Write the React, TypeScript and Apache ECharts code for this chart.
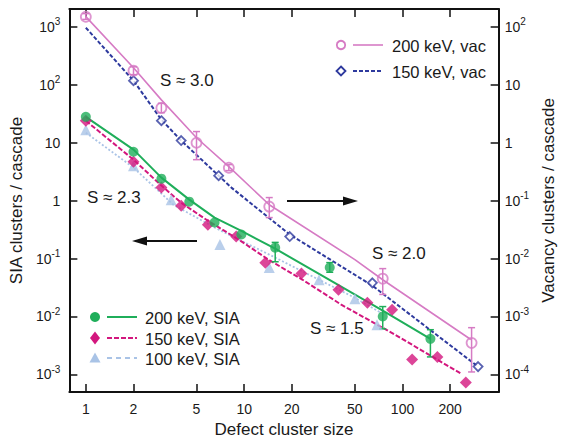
import React, { useEffect, useRef } from "react";
import * as echarts from "echarts";

// ---------- data ----------
const xTickValues = [1, 2, 5, 10, 20, 50, 100, 200];
const leftExponents = [-3, -2, -1, 0, 1, 2, 3];
const rightExponents = [-4, -3, -2, -1, 0, 1, 2];

// SIA clusters / cascade (left axis)
const sia200X = [1, 2, 3, 4.5, 6.5, 9.6, 15.7, 34.7, 75, 150];
const sia200Y = [28, 7.0, 2.4, 0.96, 0.42, 0.26, 0.154, 0.07, 0.01, 0.0041];
const sia200ErrX = [15.7, 34.7, 75, 150];
const sia200ErrLo = [0.088, 0.058, 0.0061, 0.002];
const sia200ErrHi = [0.19, 0.085, 0.0148, 0.0059];
const sia200FitX = [1, 2, 3, 4.5, 6.5, 9.6, 15.7, 38, 75, 150];
const sia200FitY = [28, 7.6, 2.5, 1.04, 0.51, 0.3, 0.148, 0.037, 0.0126, 0.0041];

const sia150X = [1, 2, 3, 4, 5.9, 8.9, 13.6, 23, 39.4, 60, 86, 115, 166, 251];
const sia150Y = [24, 4.7, 1.68, 0.82, 0.385, 0.24, 0.085, 0.055, 0.029, 0.0173, 0.0131, 0.0018, 0.002, 0.00072];
const sia150FitX = [1, 2, 3, 4, 5.9, 9.3, 14.2, 23.4, 41, 89, 234];
const sia150FitY = [24, 5.1, 1.82, 0.92, 0.45, 0.21, 0.096, 0.043, 0.016, 0.0049, 0.00103];

const sia100X = [1, 2, 3.46, 7.03, 14.4, 29.7, 50, 69];
const sia100Y = [16.8, 4.0, 1.04, 0.174, 0.07, 0.043, 0.0203, 0.0072];
const sia100FitX = [1, 2, 3.57, 6.54, 14.4, 29.7, 50, 73];
const sia100FitY = [14.9, 3.72, 0.85, 0.34, 0.117, 0.043, 0.021, 0.0116];

// Vacancy clusters / cascade (right axis)
const vac200X = [1, 2, 3, 5, 8, 14.4, 75, 273];
const vac200Y = [150, 17.6, 4.0, 1.0, 0.37, 0.079, 0.0045, 0.00035];
const vac200ErrLo = [135, 15, 3.3, 0.51, 0.33, 0.051, 0.0024, 0.00011];
const vac200ErrHi = [170, 20.5, 4.8, 1.56, 0.42, 0.113, 0.0067, 0.00064];
const vac200FitX = [1, 2, 3, 5, 8, 14.4, 50, 75, 270];
const vac200FitY = [151, 19.8, 5.5, 1.22, 0.386, 0.085, 0.0096, 0.0043, 0.0004];

const vac150X = [2, 3, 4, 6.9, 19.4, 64.5, 300];
const vac150Y = [11.8, 2.4, 1.09, 0.27, 0.024, 0.0038, 0.000136];
const vac150FitX = [1, 2, 3, 4, 6.9, 8.3, 19.4, 64.5, 300];
const vac150FitY = [97, 11.8, 2.5, 1.09, 0.27, 0.168, 0.026, 0.0034, 0.000136];

// ---------- styles ----------
const FONT = "'Liberation Sans', Arial, Helvetica, sans-serif";
const TXT = "#1a1a1a";
const C_PINK = "#d67bc4";
const C_BLUE = "#2e3a9e";
const C_GREEN = "#1fae5a";
const C_MAG = "#d3177e";
const C_LBLUE = "#a9c3e6";

const L = Math.log10;
const pts = (xs: number[], ys: number[]) => xs.map((x, i) => [L(x), L(ys[i])]);
const errs = (xs: number[], lo: number[], hi: number[]) => xs.map((x, i) => [L(x), L(lo[i]), L(hi[i])]);

const expLabel = (v: number) => {
  const e = Math.round(v);
  if (e === 0) return "{b|1}";
  if (e === 1) return "{b|10}";
  return "{b|10}{s|" + e + "}";
};
const rich = {
  b: { fontSize: 14, lineHeight: 20, fontFamily: FONT, color: TXT },
  s: { fontSize: 10, lineHeight: 12, verticalAlign: "top", fontFamily: FONT, color: TXT },
};

const errorBar = (color: string, yAxisIndex: number, data: number[][]) => ({
  type: "custom",
  xAxisIndex: 0,
  yAxisIndex,
  z: 3,
  renderItem: (params: any, api: any) => {
    const x = api.value(0);
    const p1 = api.coord([x, api.value(1)]);
    const p2 = api.coord([x, api.value(2)]);
    const w = 3.5;
    const st = { stroke: color, lineWidth: 1.5 };
    return {
      type: "group",
      children: [
        { type: "line", shape: { x1: p1[0], y1: p1[1], x2: p2[0], y2: p2[1] }, style: st },
        { type: "line", shape: { x1: p1[0] - w, y1: p1[1], x2: p1[0] + w, y2: p1[1] }, style: st },
        { type: "line", shape: { x1: p2[0] - w, y1: p2[1], x2: p2[0] + w, y2: p2[1] }, style: st },
      ],
    };
  },
  data,
});

const fitLine = (color: string, yAxisIndex: number, data: number[][], type: any, width: number) => ({
  type: "line",
  yAxisIndex,
  showSymbol: false,
  symbol: "none",
  z: 2,
  lineStyle: { color, width, type },
  data,
});

const markers = (color: string, yAxisIndex: number, data: number[][], symbol: string, size: number, hollow?: string) => ({
  type: "scatter",
  yAxisIndex,
  symbol,
  symbolSize: size,
  z: 4,
  itemStyle: hollow
    ? { color: hollow, borderColor: color, borderWidth: 1.8 }
    : { color },
  data,
});

const axisLineStyle = { onZero: false, lineStyle: { color: "#111", width: 2 } };
const tickStyle = { inside: true, length: 8, lineStyle: { color: "#111", width: 1.5 } };

function buildOption() {
  const xMin = -0.104;
  const xMax = 2.607;
  const yMin = -3.305;
  const yMax = 3.31;
  const xLogTicks = xTickValues.map((v) => L(v));

  const text = (x: number, y: number, t: string) => ({
    type: "text",
    x,
    y,
    style: { text: t, fontSize: 17, fontFamily: FONT, fill: TXT, verticalAlign: "middle", align: "left" },
  });
  const legText = (x: number, y: number, t: string) => ({
    type: "text",
    x,
    y,
    style: { text: t, fontSize: 16.5, fontFamily: FONT, fill: TXT, verticalAlign: "middle", align: "left" },
  });
  const legLine = (x1: number, x2: number, y: number, color: string, dash: any, w: number) => ({
    type: "line",
    shape: { x1, y1: y, x2, y2: y },
    style: { stroke: color, lineWidth: w, lineDash: dash },
  });

  return {
    animation: false,
    backgroundColor: "#fff",
    grid: { left: 65, right: 58, top: 9, bottom: 51, containLabel: false },
    xAxis: [
      {
        type: "value",
        position: "bottom",
        min: xMin,
        max: xMax,
        name: "Defect cluster size",
        nameLocation: "middle",
        nameGap: 28,
        nameTextStyle: { fontSize: 17, fontFamily: FONT, color: TXT },
        axisLine: axisLineStyle,
        axisTick: { ...tickStyle, customValues: xLogTicks },
        axisLabel: {
          customValues: xLogTicks,
          margin: 10,
          fontSize: 14,
          fontFamily: FONT,
          color: TXT,
          formatter: (v: number) => String(Math.round(Math.pow(10, v))),
        },
        splitLine: { show: false },
      },
      {
        type: "value",
        position: "top",
        min: xMin,
        max: xMax,
        axisLine: axisLineStyle,
        axisTick: { ...tickStyle, customValues: xLogTicks },
        axisLabel: { show: false },
        splitLine: { show: false },
      },
    ],
    yAxis: [
      {
        type: "value",
        position: "left",
        min: yMin,
        max: yMax,
        name: "SIA clusters / cascade",
        nameLocation: "middle",
        nameGap: 40,
        nameTextStyle: { fontSize: 17, fontFamily: FONT, color: TXT },
        axisLine: axisLineStyle,
        axisTick: { ...tickStyle, customValues: leftExponents },
        axisLabel: { customValues: leftExponents, margin: 9, formatter: expLabel, rich },
        splitLine: { show: false },
      },
      {
        type: "value",
        position: "right",
        min: yMin - 1,
        max: yMax - 1,
        name: "Vacancy clusters / cascade",
        nameLocation: "middle",
        nameGap: 41,
        nameTextStyle: { fontSize: 17, fontFamily: FONT, color: TXT },
        axisLine: axisLineStyle,
        axisTick: { ...tickStyle, customValues: rightExponents },
        axisLabel: { customValues: rightExponents, margin: 6, formatter: expLabel, rich },
        splitLine: { show: false },
      },
    ],
    series: [
      fitLine(C_LBLUE, 0, pts(sia100FitX, sia100FitY), [2, 2], 1.8),
      fitLine(C_MAG, 0, pts(sia150FitX, sia150FitY), [5, 2], 2),
      fitLine(C_GREEN, 0, pts(sia200FitX, sia200FitY), "solid", 2),
      fitLine(C_BLUE, 1, pts(vac150FitX, vac150FitY), [4, 2], 2),
      fitLine(C_PINK, 1, pts(vac200FitX, vac200FitY), "solid", 1.6),
      errorBar(C_GREEN, 0, errs(sia200ErrX, sia200ErrLo, sia200ErrHi)),
      errorBar(C_PINK, 1, errs(vac200X, vac200ErrLo, vac200ErrHi)),
      markers(C_LBLUE, 0, pts(sia100X, sia100Y), "triangle", 11),
      markers(C_MAG, 0, pts(sia150X, sia150Y), "diamond", 12),
      markers(C_GREEN, 0, pts(sia200X, sia200Y), "circle", 10),
      markers(C_BLUE, 1, pts(vac150X, vac150Y), "diamond", 9, "#fff"),
      markers(C_PINK, 1, pts(vac200X, vac200Y), "circle", 10, "rgba(255,255,255,0)"),
    ],
    graphic: [
      text(160, 80, "S ≈ 3.0"),
      text(87, 197, "S ≈ 2.3"),
      text(372, 253, "S ≈ 2.0"),
      text(310, 328, "S ≈ 1.5"),
      // arrows
      { type: "line", shape: { x1: 197, y1: 241, x2: 142, y2: 241 }, style: { stroke: "#111", lineWidth: 2 } },
      { type: "polygon", shape: { points: [[132, 241], [147, 236.5], [147, 245.5]] }, style: { fill: "#111" } },
      { type: "line", shape: { x1: 287, y1: 201, x2: 346, y2: 201 }, style: { stroke: "#111", lineWidth: 2 } },
      { type: "polygon", shape: { points: [[358, 201], [343, 196.5], [343, 205.5]] }, style: { fill: "#111" } },
      // SIA legend
      { type: "circle", shape: { cx: 95, cy: 317, r: 5 }, style: { fill: C_GREEN } },
      legLine(107, 137, 317, C_GREEN, null, 2),
      legText(145, 318, "200 keV, SIA"),
      { type: "polygon", shape: { points: [[95, 331.5], [100, 338], [95, 344.5], [90, 338]] }, style: { fill: C_MAG } },
      legLine(107, 137, 338, C_MAG, [5, 2], 2),
      legText(145, 339, "150 keV, SIA"),
      { type: "polygon", shape: { points: [[95, 352.5], [100.5, 362.5], [89.5, 362.5]] }, style: { fill: C_LBLUE } },
      legLine(107, 137, 358, C_LBLUE, [5, 4], 1.8),
      legText(145, 359, "100 keV, SIA"),
      // vac legend
      { type: "circle", shape: { cx: 341, cy: 45, r: 4.2 }, style: { fill: "none", stroke: C_PINK, lineWidth: 1.8 } },
      legLine(353, 383, 45, C_PINK, null, 1.6),
      legText(392, 46, "200 keV, vac"),
      { type: "polygon", shape: { points: [[341, 66.5], [345.5, 71], [341, 75.5], [336.5, 71]] }, style: { fill: "#fff", stroke: C_BLUE, lineWidth: 1.8 } },
      legLine(353, 383, 71, C_BLUE, [4, 2], 2),
      legText(392, 72, "150 keV, vac"),
    ],
  };
}

export default function App() {
  const ref = useRef<HTMLDivElement>(null);
  useEffect(() => {
    if (!ref.current) return;
    const chart = echarts.init(ref.current, null, { renderer: "svg" });
    chart.setOption(buildOption() as any);
    return () => chart.dispose();
  }, []);
  return (
    <div
      ref={ref}
      style={{ position: "fixed", left: 0, top: 0, width: 565, height: 443, background: "#fff" }}
    />
  );
}
